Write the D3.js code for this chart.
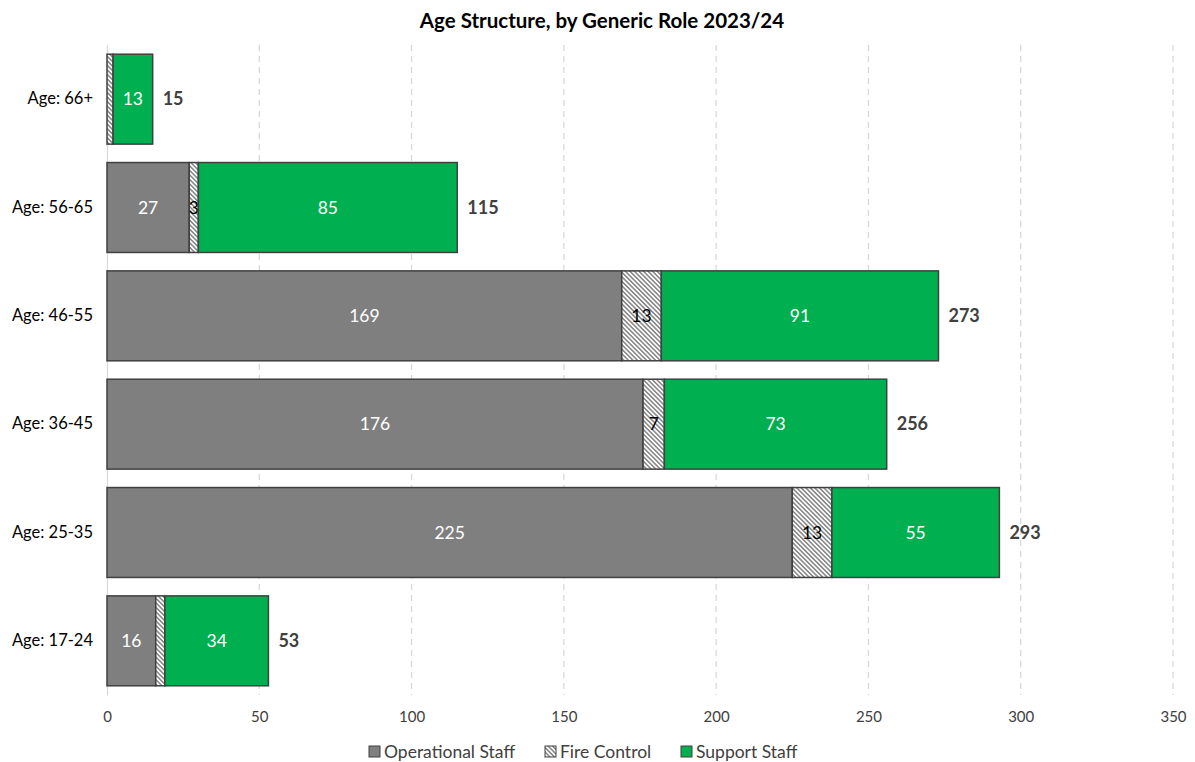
<!DOCTYPE html>
<html><head><meta charset="utf-8">
<script src="https://cdn.jsdelivr.net/npm/d3@7"></script>
<style>body{margin:0;background:#fff;font-family:Lato,"Liberation Sans",sans-serif;}</style>
</head><body><svg id="c" width="1195" height="762"></svg>
<script>
const categories = ["Age: 66+","Age: 56-65","Age: 46-55","Age: 36-45","Age: 25-35","Age: 17-24"];
const operational = [0,27,169,176,225,16];
const fireControl = [2,3,13,7,13,3];
const support = [13,85,91,73,55,34];
const totals = [15,115,273,256,293,53];
const fireControlLabelShown = [false,true,true,true,true,false];
const seriesNames = ["Operational Staff","Fire Control","Support Staff"];
const xTicks = [0,50,100,150,200,250,300,350];

const FF = "Lato,'Liberation Sans',sans-serif";
const svg = d3.select("#c");
const m = {left:107,right:22,top:45,bottom:67};
const W = 1195, H = 762;
const x = d3.scaleLinear().domain([0,350]).range([m.left, W-m.right]);
const y = d3.scaleBand().domain(categories).range([m.top, H-m.bottom]).paddingInner(0.17).paddingOuter(0.085);

const defs = svg.append("defs");
const pat = defs.append("pattern").attr("id","hatch").attr("patternUnits","userSpaceOnUse")
  .attr("width",3.2).attr("height",3.2).attr("patternTransform","rotate(-45)");
pat.append("rect").attr("width",3.2).attr("height",3.2).attr("fill","#fff");
pat.append("line").attr("x1",0.8).attr("y1",0).attr("x2",0.8).attr("y2",3.2).attr("stroke","#555").attr("stroke-width",1.1);

// title
svg.append("text").attr("x",602).attr("y",28).attr("text-anchor","middle")
  .attr("font-size",20.5).attr("font-weight","bold").attr("fill","#000")
  .text("Age Structure, by Generic Role 2023/24");

// grid
svg.append("g").selectAll("line").data(xTicks.slice(1)).join("line")
  .attr("x1",d=>x(d)).attr("x2",d=>x(d)).attr("y1",m.top).attr("y2",H-m.bottom)
  .attr("stroke","#d9d9d9").attr("stroke-width",1.3).attr("stroke-dasharray","6,5");

// x axis
const xa = svg.append("g").attr("transform",`translate(0,${H-m.bottom})`)
  .call(d3.axisBottom(x).tickValues(xTicks).tickSize(0).tickPadding(16));
xa.select(".domain").remove();
xa.selectAll("text").attr("font-size",15).attr("fill","#404040").attr("font-family",FF);

// y axis
const ya = svg.append("g").attr("transform",`translate(${m.left},0)`)
  .call(d3.axisLeft(y).tickSize(0).tickPadding(14));
ya.select(".domain").attr("stroke","#d9d9d9").attr("stroke-width",1.3);
ya.selectAll("text").attr("font-size",16.5).attr("fill","#000").attr("font-family",FF);

const stackData = categories.map((c,i)=>({cat:c, i:i, op:operational[i], fc:fireControl[i], sp:support[i]}));
const stack = d3.stack().keys(["op","fc","sp"])(stackData);
const fills = ["#7f7f7f","url(#hatch)","#00b050"];
const labelCol = ["#fff","#000","#fff"];

stack.forEach((s,k)=>{
  const g = svg.append("g");
  g.selectAll("rect").data(s.filter(d=>d[1]-d[0]>0)).join("rect")
    .attr("x",d=>x(d[0])).attr("width",d=>x(d[1])-x(d[0]))
    .attr("y",d=>y(d.data.cat)).attr("height",y.bandwidth())
    .attr("fill",fills[k]).attr("stroke","#404040").attr("stroke-width",1.5);
  g.selectAll("text").data(s.filter(d=>d[1]-d[0]>0 && (k!==1 || fireControlLabelShown[d.data.i]))).join("text")
    .attr("x",d=>(x(d[0])+x(d[1]))/2).attr("y",d=>y(d.data.cat)+y.bandwidth()/2)
    .attr("dy","0.35em").attr("text-anchor","middle").attr("font-size",17.5)
    .attr("fill",labelCol[k]).text(d=>d[1]-d[0]);
});

// totals
svg.append("g").selectAll("text").data(categories).join("text")
  .attr("x",(d,i)=>x(totals[i])+10).attr("y",d=>y(d)+y.bandwidth()/2).attr("dy","0.35em")
  .attr("font-size",18).attr("font-weight","bold").attr("fill","#404040").text((d,i)=>totals[i]);

// legend
const legFills = ["#7f7f7f","url(#hatch)","#00b050"];
const legX = [369,545,681];
const lg = svg.append("g");
seriesNames.forEach((n,i)=>{
  lg.append("rect").attr("x",legX[i]).attr("y",746).attr("width",11).attr("height",11)
    .attr("fill",legFills[i]).attr("stroke","#404040").attr("stroke-width",1);
  lg.append("text").attr("x",legX[i]+15).attr("y",752).attr("dy","0.35em")
    .attr("font-size",17.5).attr("fill","#404040").text(n);
});
</script></body></html>
